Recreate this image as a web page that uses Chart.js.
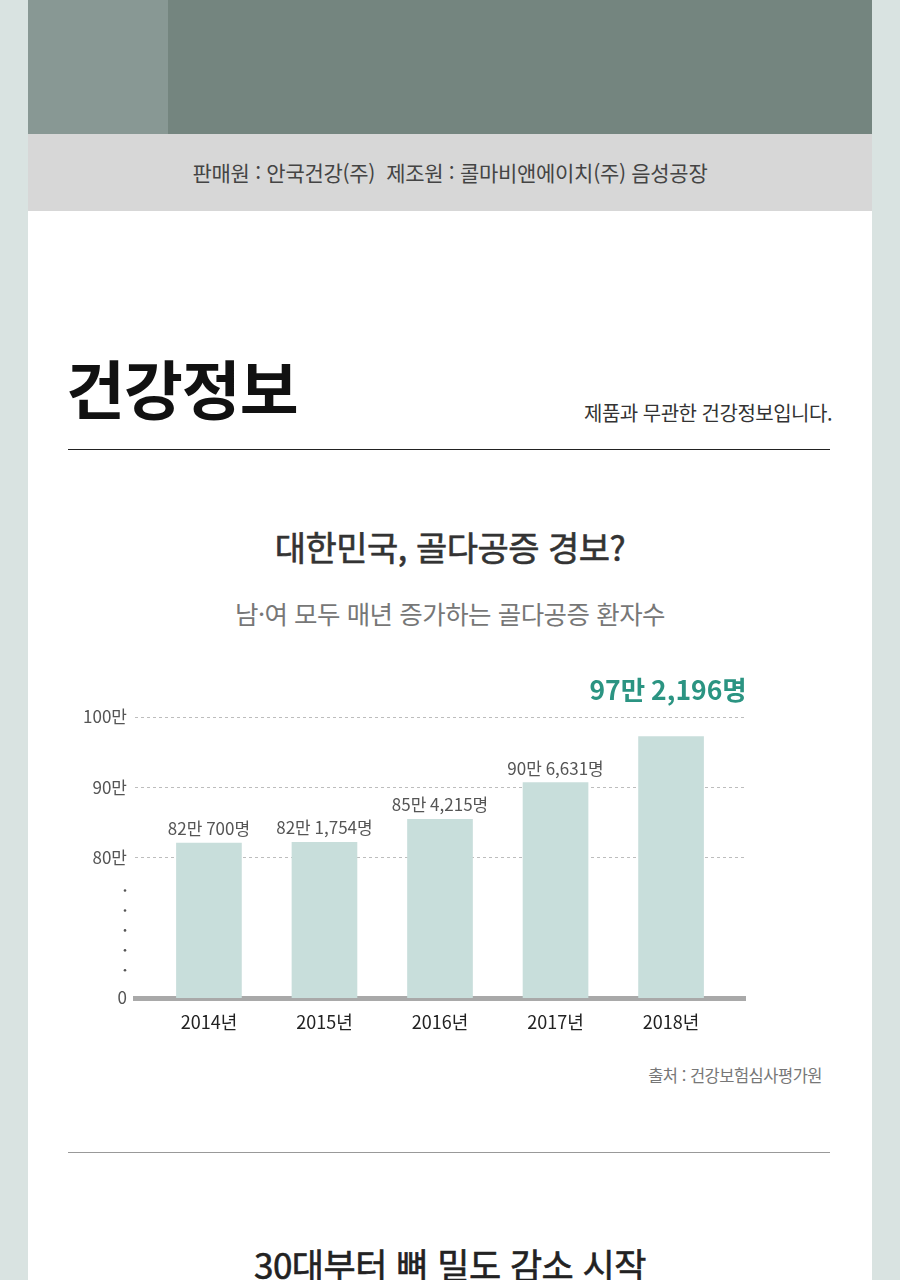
<!DOCTYPE html>
<html lang="ko">
<head>
<meta charset="utf-8">
<script src="https://cdn.jsdelivr.net/npm/chart.js@4.4.1/dist/chart.umd.min.js"></script>
<style>
  html, body { margin: 0; padding: 0; }
  body {
    width: 900px; height: 1280px; overflow: hidden; position: relative;
    background: #d9e3e1;
    font-family: "Noto Sans CJK KR", "Noto Sans", sans-serif;
  }
  .panel { position: absolute; left: 28px; top: 0; width: 844px; height: 1280px; background: #fff; }
  .banner { position: absolute; left: 28px; top: 0; width: 844px; height: 134px; background: #74857f; }
  .banner-left { position: absolute; left: 28px; top: 0; width: 140px; height: 134px; background: #889894; }
  .band {
    position: absolute; left: 28px; top: 134px; width: 844px; height: 77px; background: #d7d7d7;
    text-align: center; line-height: 77px; font-size: 21px; color: #444; letter-spacing: -0.3px;
  }
  .heading { position: absolute; left: 66px; top: 340px; font-size: 64px; font-weight: 700; color: #111; letter-spacing: -1px; }
  .note { position: absolute; right: 68px; top: 398px; font-size: 20px; color: #333; letter-spacing: -0.5px; }
  .rule { position: absolute; left: 68px; width: 762px; }
  .title { position: absolute; left: 28px; width: 844px; text-align: center; letter-spacing: -0.5px; }
  .medium { font-weight: 400; -webkit-text-stroke: 0.6px currentColor; }
  .source { position: absolute; right: 78px; top: 1063px; font-size: 16.5px; color: #777; letter-spacing: -0.5px; }
  #chartWrap { position: absolute; left: 60px; top: 650px; width: 740px; height: 400px; }
</style>
</head>
<body>
<div class="panel"></div>
<div class="banner"></div>
<div class="banner-left"></div>
<div class="band">판매원 : 안국건강(주)&nbsp;&nbsp;제조원 : 콜마비앤에이치(주) 음성공장</div>

<div class="heading">건강정보</div>
<div class="note">제품과 무관한 건강정보입니다.</div>
<div class="rule" style="top:449px;border-top:1.5px solid #222;"></div>

<div class="title medium" style="top:522px;font-size:34px;color:#333;">대한민국, 골다공증 경보?</div>
<div class="title" style="top:594px;font-size:25.5px;color:#777;">남·여 모두 매년 증가하는 골다공증 환자수</div>

<div id="chartWrap"><canvas id="chart"></canvas></div>

<div class="source">출처 : 건강보험심사평가원</div>
<div class="rule" style="top:1152px;border-top:1px solid #999;"></div>
<div class="title medium" style="top:1238px;font-size:35px;color:#222;">30대부터 뼈 밀도 감소 시작</div>

<script>
const years = ["2014년", "2015년", "2016년", "2017년", "2018년"];
const patients = [820700, 821754, 854215, 906631, 972196];
const yTicks = [600000, 700000, 800000, 900000, 1000000];
const yTickLabels = ["0", "", "80만", "90만", "100만"];

function formatCount(v) {
  const man = Math.floor(v / 10000);
  const rest = v % 10000;
  return man + "만 " + rest.toLocaleString("en-US") + "명";
}

const barLabels = {
  id: "barLabels",
  afterDatasetsDraw(chart) {
    const ctx = chart.ctx;
    const meta = chart.getDatasetMeta(0);
    const last = patients.length - 1;
    ctx.save();
    ctx.textAlign = "center";
    meta.data.forEach((bar, i) => {
      if (i === last) {
        ctx.font = "700 26.5px 'Noto Sans CJK KR'";
        ctx.fillStyle = "#2b9482";
        ctx.textBaseline = "middle";
        ctx.fillText(formatCount(patients[i]), bar.x - 3, chart.chartArea.top - 27);
      } else {
        ctx.font = "17px 'Noto Sans CJK KR'";
        ctx.fillStyle = "#555";
        ctx.textBaseline = "bottom";
        ctx.fillText(formatCount(patients[i]), bar.x, bar.y - 6);
      }
    });
    // vertical dots for the broken axis
    const y = chart.scales.y;
    const top = y.getPixelForValue(800000);
    const bottom = y.getPixelForValue(600000);
    ctx.fillStyle = "#555";
    for (let k = 0; k < 5; k++) {
      const py = top + (bottom - top) * (0.235 + 0.142 * k);
      ctx.beginPath();
      ctx.arc(chart.chartArea.left - 10, py, 1.3, 0, Math.PI * 2);
      ctx.fill();
    }
    ctx.restore();
  }
};

new Chart(document.getElementById("chart"), {
  type: "bar",
  data: {
    datasets: [{
      data: patients.map((v, i) => ({ x: i, y: v })),
      backgroundColor: "#c8dedb",
      barThickness: 65
    }]
  },
  options: {
    responsive: true,
    maintainAspectRatio: false,
    animation: false,
    layout: { padding: { top: 67, right: 55, left: 0, bottom: 0 } },
    plugins: { legend: { display: false }, tooltip: { enabled: false } },
    scales: {
      x: {
        type: "linear",
        offset: false,
        min: -0.64,
        max: 4.64,
        afterFit: (s) => { s.height = 52; },
        afterBuildTicks: (s) => { s.ticks = years.map((_, i) => ({ value: i })); },
        grid: { display: false },
        border: { display: true, width: 5, color: "#a9a9a9" },
        ticks: {
          padding: 5,
          color: "#222",
          font: { size: 18, family: "'Noto Sans CJK KR'" },
          callback: (v) => years[v] ?? ""
        }
      },
      y: {
        min: 600000,
        max: 1000000,
        afterFit: (s) => { s.width = 75; },
        afterBuildTicks: (s) => { s.ticks = yTicks.map((v) => ({ value: v })); },
        border: { display: false, dash: [3, 3] },
        grid: {
          drawTicks: false,
          color: (c) => (c.tick && c.tick.value >= 800000 ? "#bdbdbd" : "rgba(0,0,0,0)"),
          lineWidth: 1
        },
        ticks: {
          padding: 8,
          color: "#555",
          font: { size: 17, family: "'Noto Sans CJK KR'" },
          callback: (v) => yTickLabels[yTicks.indexOf(v)]
        }
      }
    }
  },
  plugins: [barLabels]
});
</script>
</body>
</html>
